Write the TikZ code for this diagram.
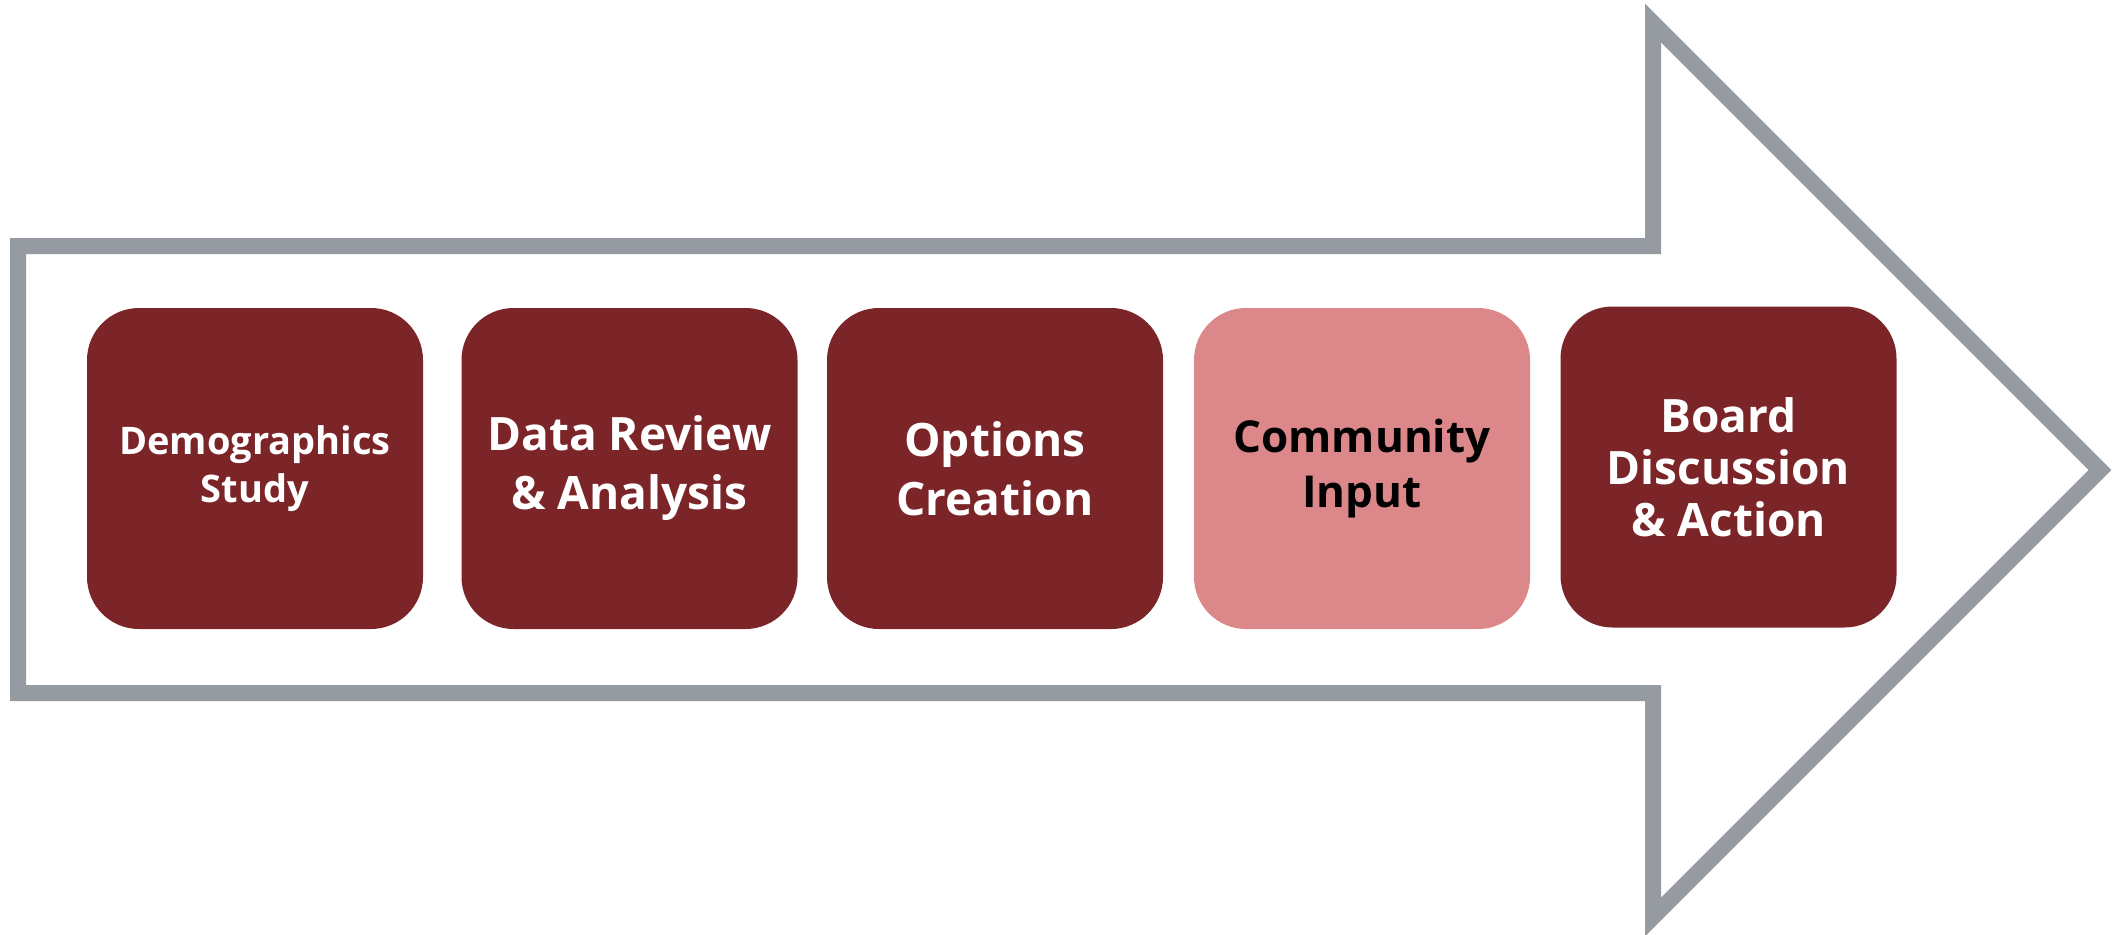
\documentclass[tikz,border=0pt]{standalone}
\usepackage{fontspec}
\setmainfont{Open Sans}
\definecolor{darkred}{HTML}{7C2529}
\definecolor{pinkbox}{HTML}{DC888B}
\definecolor{arrowgray}{HTML}{969BA1}
\begin{document}
\begin{tikzpicture}[x=1pt,y=-1pt,
  stepbox/.style={rounded corners=52pt, minimum width=336pt, minimum height=321pt,
    inner sep=0pt, align=center, text=white, fill=darkred},
]
\useasboundingbox (0,0) rectangle (2114,934);
\draw[arrowgray, line width=16pt, line join=miter, miter limit=10]
  (18,246) -- (1653,246) -- (1653,23) -- (2100,470) -- (1653,917) -- (1653,693) -- (18,693) -- cycle;
\node[stepbox, font=\bfseries\fontsize{38pt}{48pt}\selectfont] (s1) at (255,468.5) {Demographics\\Study};
\node[stepbox, font=\bfseries\fontsize{46pt}{59pt}\selectfont] (s2) at (629.5,468.5) {Data Review\\\& Analysis};
\node[stepbox, font=\bfseries\fontsize{46pt}{59pt}\selectfont] (s3) at (995,468.5) {Options\\Creation};
\node[stepbox, fill=pinkbox, text=black, font=\bfseries\fontsize{44pt}{55pt}\selectfont] (s4) at (1362,468.5) {Community\\Input};
\node[stepbox, font=\bfseries\fontsize{46pt}{52pt}\selectfont] (s5) at (1728.5,467) {Board\\Discussion\\\& Action};
\end{tikzpicture}
\end{document}
